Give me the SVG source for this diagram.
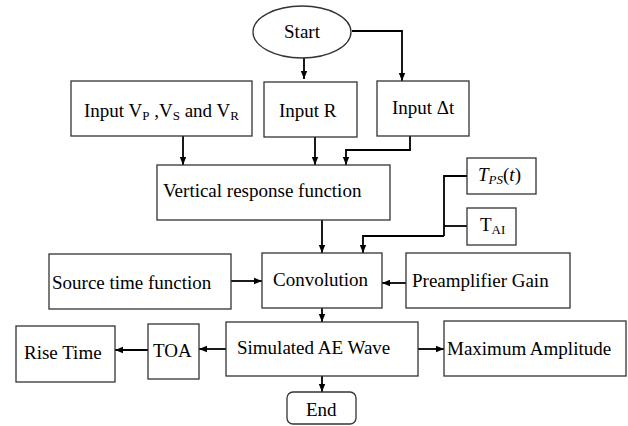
<svg xmlns="http://www.w3.org/2000/svg" width="628" height="426" viewBox="0 0 628 426">
<defs>
<marker id="ah" markerUnits="userSpaceOnUse" markerWidth="8" markerHeight="8" viewBox="0 0 8 8" refX="8" refY="4" orient="auto">
<path d="M0,0.8 L8,4 L0,7.2 Z" fill="#000"/>
</marker>
<style>
.b{fill:#fff;stroke:#333;stroke-width:1.3}
.t{font-family:"Liberation Serif","Times New Roman",serif;font-size:19px;fill:#000}
.s{font-size:13px}
.m{font-family:"Liberation Serif","Times New Roman",serif;font-style:italic;font-size:19px;fill:#000}
.u{font-style:normal}
.c{fill:none;stroke:#000;stroke-width:1.8}
.a{marker-end:url(#ah)}
</style>
</defs>
<rect width="628" height="426" fill="#fff"/>
<g id="connectors">
<path class="c a" d="M352,31 H402 V81"/>
<path class="c a" d="M304,58 V79"/>
<path class="c a" d="M183,136 V165"/>
<path class="c a" d="M315,137 V165"/>
<path class="c a" d="M410,136 V150 H346 V165"/>
<path class="c" d="M467,176 H444 V236"/>
<path class="c" d="M467,226 H444"/>
<path class="c a" d="M444,236 H363 V253"/>
<path class="c a" d="M322,220 V253"/>
<path class="c a" d="M231,281 H262"/>
<path class="c a" d="M406,283 H382"/>
<path class="c a" d="M322,308 V322"/>
<path class="c a" d="M418,349 H444"/>
<path class="c a" d="M226,349 H199"/>
<path class="c a" d="M148,350 H115"/>
<path class="c a" d="M322,376 V392"/>
</g>
<g id="start"><ellipse class="b" cx="302" cy="32" rx="49" ry="26"/><text class="t" x="302" y="38" text-anchor="middle">Start</text></g>
<g id="inputV"><rect class="b" x="71" y="81" width="181" height="55"/><text class="t" x="84" y="117">Input V<tspan class="s" dy="3">P</tspan><tspan dy="-3"> ,V</tspan><tspan class="s" dy="3">S</tspan><tspan dy="-3"> and V</tspan><tspan class="s" dy="3">R</tspan></text></g>
<g id="inputR"><rect class="b" x="264" y="82" width="93" height="55"/><text class="t" x="279" y="117">Input R</text></g>
<g id="inputDt"><rect class="b" x="377" y="81" width="92" height="55"/><text class="t" x="392" y="114">Input Δt</text></g>
<g id="vrf"><rect class="b" x="157" y="165" width="233" height="55"/><text class="t" x="163" y="197">Vertical response function</text></g>
<g id="tps"><rect class="b" x="467" y="158" width="69" height="36"/><text class="m" x="478" y="181">T<tspan class="s" dy="3">PS</tspan><tspan class="u" dy="-3">(</tspan>t<tspan class="u">)</tspan></text></g>
<g id="tai"><rect class="b" x="467" y="208" width="49" height="37"/><text class="t" x="480" y="231">T<tspan class="s" dy="3">AI</tspan></text></g>
<g id="conv"><rect class="b" x="262" y="253" width="120" height="55"/><text class="t" x="273" y="286">Convolution</text></g>
<g id="stf"><rect class="b" x="49" y="254" width="182" height="55"/><text class="t" x="52" y="289">Source time function</text></g>
<g id="pg"><rect class="b" x="406" y="253" width="164" height="55"/><text class="t" x="412" y="287">Preamplifier Gain</text></g>
<g id="sim"><rect class="b" x="226" y="322" width="192" height="54"/><text class="t" x="237" y="354">Simulated AE Wave</text></g>
<g id="maxamp"><rect class="b" x="444" y="321" width="182" height="55"/><text class="t" x="447" y="355">Maximum Amplitude</text></g>
<g id="toa"><rect class="b" x="148" y="324" width="51" height="55"/><text class="t" x="153" y="357">TOA</text></g>
<g id="rise"><rect class="b" x="16" y="326" width="99" height="56"/><text class="t" x="24" y="359">Rise Time</text></g>
<g id="end"><rect class="b" x="287" y="392" width="69" height="32" rx="6"/><text class="t" x="306" y="416">End</text></g>
</svg>
